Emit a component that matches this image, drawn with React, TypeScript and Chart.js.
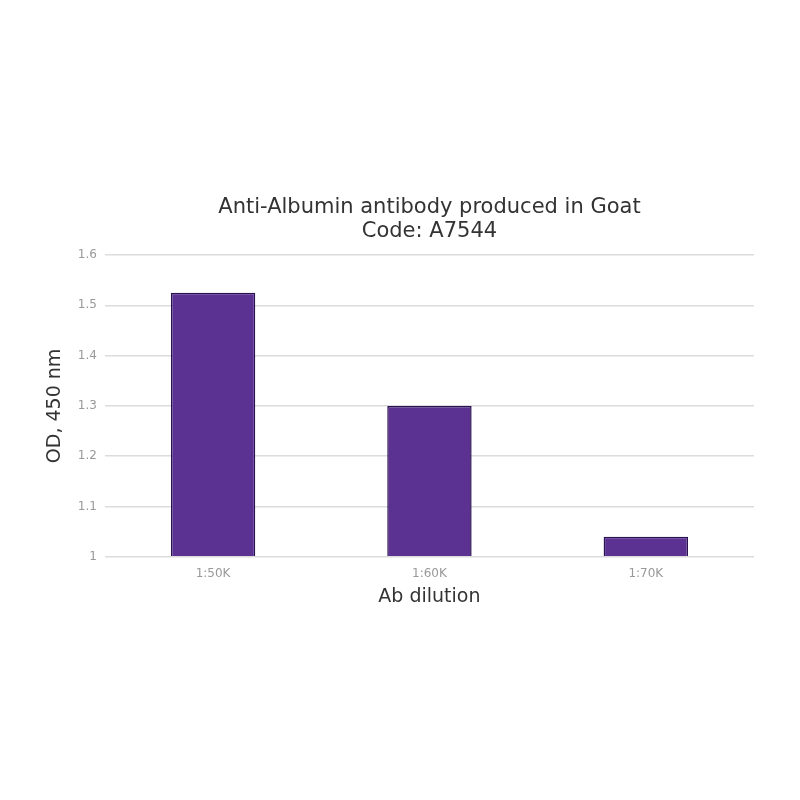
import React, { useEffect, useRef } from "react";
import { Chart, registerables } from "chart.js";

Chart.register(...registerables);

const categories = ["1:50K", "1:60K", "1:70K"];
const odValues = [1.525, 1.3, 1.04];
const titleLines = ["Anti-Albumin antibody produced in Goat", "Code: A7544"];
const xTitle = "Ab dilution";
const yTitle = "OD, 450 nm";

const FONT = "'DejaVu Sans', Verdana, sans-serif";

export default function App() {
  const ref = useRef<HTMLCanvasElement | null>(null);
  useEffect(() => {
    document.body.style.margin = "0";
    const ctx = ref.current!;
    const chart = new Chart(ctx, {
      type: "bar",
      data: {
        labels: categories,
        datasets: [
          {
            data: odValues,
            backgroundColor: "#5b3192",
            borderColor: "#2a1152",
            borderWidth: 1.5,
            categoryPercentage: 1,
            barPercentage: 0.39,
            base: 1,
          },
        ],
      },
      options: {
        animation: false,
        responsive: false,
        devicePixelRatio: 1,
        layout: { padding: { top: 196, bottom: 188, left: 40, right: 46 } },
        plugins: {
          legend: { display: false },
          tooltip: { enabled: false },
          title: {
            display: true,
            fullSize: false,
            text: titleLines,
            color: "#333",
            font: { family: FONT, size: 21, weight: "normal", lineHeight: 1.143 },
            padding: { top: 0, bottom: 11 },
          },
        },
        scales: {
          x: {
            grid: { display: false },
            border: { display: false },
            ticks: { color: "#999", font: { family: FONT, size: 12 }, padding: 2 },
            title: {
              display: true,
              text: xTitle,
              color: "#333",
              font: { family: FONT, size: 19 },
              padding: { top: 2, bottom: 4 },
            },
          },
          y: {
            min: 1,
            max: 1.6,
            grid: { color: "#dcdcdc", lineWidth: 1.5, drawTicks: false },
            border: { display: false },
            ticks: {
              stepSize: 0.1,
              color: "#999",
              font: { family: FONT, size: 12 },
              padding: 8,
              callback: (v: any) => String(Math.round(Number(v) * 10) / 10),
            },
            title: {
              display: true,
              text: yTitle,
              color: "#333",
              font: { family: FONT, size: 19 },
              padding: { top: 4, bottom: 3 },
            },
          },
        },
      },
    });
    return () => chart.destroy();
  }, []);
  return (
    <div style={{ width: 800, height: 800, background: "#fff" }}>
      <canvas ref={ref} width={800} height={800} />
    </div>
  );
}
